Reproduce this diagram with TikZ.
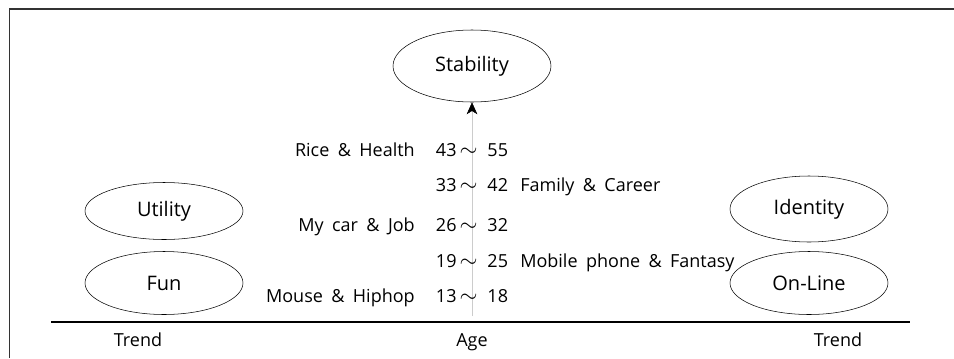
\documentclass[tikz,border=0pt]{standalone}
\usepackage{fontspec}
\setmainfont{Open Sans}[WordSpace=1.8]
\usetikzlibrary{shapes.geometric}
\usetikzlibrary{arrows.meta}
\usetikzlibrary{positioning}

\newcommand{\agesep}{\,{\fontsize{17}{17}\selectfont$\sim$}\;\;}

\tikzset{
  bubble/.style={draw, ellipse, inner sep=0pt, minimum width=118.5pt,
    font=\fontsize{15}{17}\selectfont},
  agetext/.style={inner sep=0pt, font=\fontsize{13.5}{15}\selectfont,
    text height=1.6ex, text depth=.3ex},
}

\begin{document}
\begin{tikzpicture}[x=0.75pt, y=-0.75pt]
    \useasboundingbox (0,0) rectangle (954,358);
    % frame and axis
    \draw[line width=1pt, black!80] (9.5,358) -- (9.5,9) -- (954,9);
    \draw[line width=0.8pt] (51,322) -- (910,322);
    \node[agetext] (trendl) at (138,342) {Trend};
    \node[agetext] (age) at (472,342) {Age};
    \node[agetext] (trendr) at (838,342) {Trend};

    % ellipses
    \node[bubble, minimum height=54pt] (stab) at (472,66) {Stability};
    \node[bubble, minimum height=42.75pt] (util) at (164,211) {Utility};
    \node[bubble, minimum height=47.25pt] (fun) at (164,283) {Fun};
    \node[bubble, minimum height=49.5pt] (ident) at (809,209) {Identity};
    \node[bubble, minimum height=47.25pt] (online) at (809,283) {On-Line};

    % age line
    \coordinate (abase) at (472,316);
    \draw[gray!40, -{Stealth[black, length=9pt, width=8pt, inset=2.5pt]}] (abase) -- (stab);

    % age groups
    \node[agetext] (age5) at (472,152) {43\agesep55};
    \node[agetext] (age4) at (472,187) {33\agesep42};
    \node[agetext] (age3) at (472,227) {26\agesep32};
    \node[agetext] (age2) at (472,263) {19\agesep25};
    \node[agetext] (age1) at (472,298) {13\agesep18};

    \node[agetext, anchor=east] (rice) at (415,152) {Rice \& Health};
    \node[agetext, anchor=west] (family) at (520,187) {Family \& Career};
    \node[agetext, anchor=east] (car) at (415,227) {My car \& Job};
    \node[agetext, anchor=west] (mobile) at (520,263) {Mobile phone \& Fantasy};
    \node[agetext, anchor=east] (mouse) at (415,298) {Mouse \& Hiphop};
\end{tikzpicture}
\end{document}
